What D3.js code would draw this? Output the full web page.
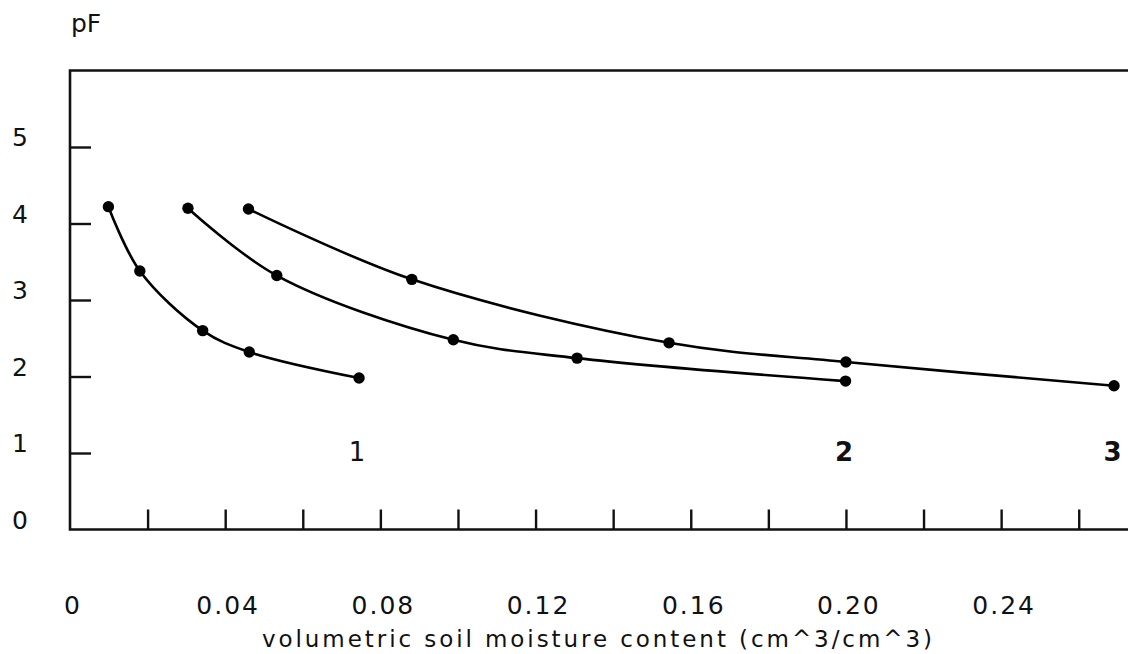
<!DOCTYPE html>
<html>
<head>
<meta charset="utf-8">
<script src="https://cdn.jsdelivr.net/npm/d3@7"></script>
<style>
  html, body { margin: 0; padding: 0; background: #fff; }
  svg { display: block; }
  text { font-family: "DejaVu Sans", "Liberation Sans", sans-serif; fill: #111; }
</style>
</head>
<body>
<svg id="chart" width="1128" height="654"></svg>
<script>
// ---- data ----
const curveNames = ["1", "2", "3"];
const moisture1 = [0.0099, 0.0180, 0.0342, 0.0462, 0.0745];
const pF1       = [4.22, 3.38, 2.60, 2.32, 1.98];
const moisture2 = [0.0304, 0.0533, 0.0988, 0.1307, 0.1999];
const pF2       = [4.20, 3.32, 2.48, 2.24, 1.94];
const moisture3 = [0.0460, 0.0881, 0.1544, 0.2000, 0.2691];
const pF3       = [4.19, 3.27, 2.44, 2.19, 1.88];
const xTickValues = [0.02, 0.04, 0.06, 0.08, 0.10, 0.12, 0.14, 0.16, 0.18, 0.20, 0.22, 0.24, 0.26];
const xTickLabels = ["0", "0.04", "0.08", "0.12", "0.16", "0.20", "0.24"];
const xLabelValues = [0, 0.04, 0.08, 0.12, 0.16, 0.20, 0.24];
const yTickValues = [1, 2, 3, 4, 5];
const yTickLabels = ["0", "1", "2", "3", "4", "5"];
const yLabelValues = [0, 1, 2, 3, 4, 5];
const curveLabelPos = [[0.0740, 1.0], [0.1995, 1.0], [0.2687, 1.0]];
const curveLabelWeights = ["normal", "bold", "bold"];
const xTitle = "volumetric soil moisture content (cm^3/cm^3)";
const yTitle = "pF";

const series = [
  { name: curveNames[0], xs: moisture1, ys: pF1 },
  { name: curveNames[1], xs: moisture2, ys: pF2 },
  { name: curveNames[2], xs: moisture3, ys: pF3 }
];

// ---- layout ----
const svg = d3.select("#chart");
const x = d3.scaleLinear().domain([0, 0.2727]).range([70, 1128]);
const y = d3.scaleLinear().domain([0, 6]).range([529.5, 70.5]);

// frame (left, top, bottom; right edge lies outside the picture)
svg.append("path")
  .attr("d", `M${x.range()[1] + 5},${y(6)} H${x(0)} V${y(0)} H${x.range()[1] + 5}`)
  .attr("fill", "none").attr("stroke", "#111").attr("stroke-width", 2.6);

// inward ticks
const yAxis = svg.append("g").attr("transform", `translate(${x(0)},0)`)
  .call(d3.axisRight(y).tickValues(yTickValues).tickSize(21).tickFormat(""));
const xAxis = svg.append("g").attr("transform", `translate(0,${y(0)})`)
  .call(d3.axisTop(x).tickValues(xTickValues).tickSize(20).tickFormat(""));
[yAxis, xAxis].forEach(a => {
  a.select(".domain").remove();
  a.selectAll("line").attr("stroke", "#111").attr("stroke-width", 2.4);
});

// tick labels
svg.append("g").selectAll("text").data(yLabelValues).join("text")
  .attr("x", 20).attr("y", d => y(d) - 1)
  .attr("text-anchor", "middle")
  .attr("font-size", 25)
  .text((d, i) => yTickLabels[i]);

svg.append("g").selectAll("text").data(xLabelValues).join("text")
  .attr("x", d => x(d) + 3).attr("y", 614)
  .attr("text-anchor", "middle")
  .attr("font-size", 25)
  .attr("letter-spacing", 2)
  .text((d, i) => xTickLabels[i]);

// axis titles
svg.append("text").attr("x", 71).attr("y", 32)
  .attr("font-size", 25).text(yTitle);

svg.append("text").attr("x", 262).attr("y", 647)
  .attr("font-size", 23)
  .attr("textLength", 670).attr("lengthAdjust", "spacing")
  .text(xTitle);

// curves
const line = d3.line()
  .x(d => x(d[0])).y(d => y(d[1]))
  .curve(d3.curveCatmullRom.alpha(0.5));

series.forEach((s, i) => {
  const pts = s.xs.map((v, j) => [v, s.ys[j]]);
  svg.append("path").datum(pts)
    .attr("d", line).attr("fill", "none")
    .attr("stroke", "#000").attr("stroke-width", 2.6);
  svg.append("g").selectAll("circle").data(pts).join("circle")
    .attr("cx", d => x(d[0])).attr("cy", d => y(d[1]))
    .attr("r", 5.7).attr("fill", "#000");
  svg.append("text")
    .attr("x", x(curveLabelPos[i][0])).attr("y", y(curveLabelPos[i][1]) + 8)
    .attr("text-anchor", "middle")
    .attr("font-size", 26).attr("font-weight", curveLabelWeights[i])
    .text(s.name);
});
</script>
</body>
</html>
